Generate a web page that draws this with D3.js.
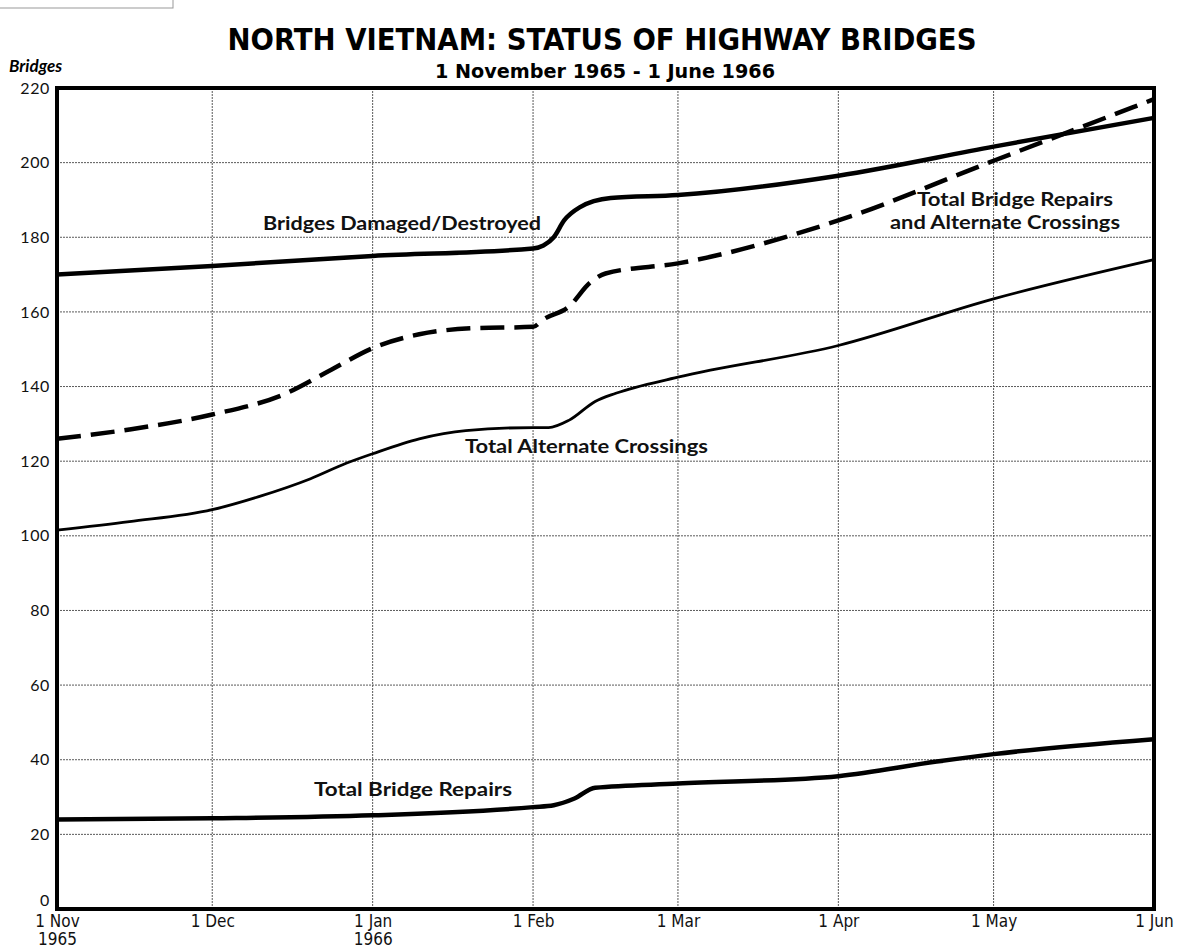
<!DOCTYPE html>
<meta charset="utf-8">
<style>
  body { margin: 0; background: #fff; }
  .grid line { stroke: #5a5a5a; stroke-width: 1; stroke-dasharray: 2,1; }
  .lbl { font-family: Lato, "Open Sans", sans-serif; font-weight: 700; font-size: 19px; fill: #111; }
  .xt { font-family: "DejaVu Sans Condensed", "DejaVu Sans", sans-serif; font-stretch: condensed; font-size: 17px; fill: #111; }
</style>
<body>
<svg id="chart" width="1179" height="951"></svg>
</body>
<script src="https://d3js.org/d3.v7.min.js"></script>
<script>
// North Vietnam: status of highway bridges, Nov 1965 - Jun 1966

// values (date, bridges)
var damaged = [
  ["1965-11-01", 170], ["1965-12-01", 172.3], ["1966-01-01", 175], ["1966-02-01", 177],
  ["1966-02-03", 177.8], ["1966-02-05", 180], ["1966-02-07", 184.5], ["1966-02-10", 188],
  ["1966-02-16", 190.5], ["1966-03-01", 191.3], ["1966-04-01", 196.5], ["1966-05-01", 204.3],
  ["1966-06-01", 212]
];
var repairsAndAlt = [
  ["1965-11-01", 126], ["1965-11-15", 128.5], ["1965-12-01", 132.5], ["1965-12-15", 138],
  ["1965-12-24", 144.5], ["1966-01-01", 150.3], ["1966-01-10", 154], ["1966-01-20", 155.6],
  ["1966-02-01", 156], ["1966-02-03", 158], ["1966-02-08", 161.5], ["1966-02-12", 167.8],
  ["1966-02-15", 170.3], ["1966-03-01", 173], ["1966-04-01", 184.5], ["1966-05-01", 200.5],
  ["1966-06-01", 217]
];
var alternate = [
  ["1965-11-01", 101.5], ["1965-11-15", 103.8], ["1965-12-01", 107], ["1965-12-10", 110.5],
  ["1965-12-20", 115.3], ["1965-12-27", 119.5], ["1966-01-01", 122], ["1966-01-10", 126],
  ["1966-01-19", 128.2], ["1966-02-01", 129], ["1966-02-04", 129], ["1966-02-08", 131],
  ["1966-02-13", 136], ["1966-02-17", 138.2], ["1966-03-01", 142.5], ["1966-04-01", 151],
  ["1966-05-01", 163.5], ["1966-06-01", 174]
];
var repairs = [
  ["1965-11-01", 24], ["1965-12-01", 24.3], ["1966-01-01", 25.1], ["1966-02-01", 27.3],
  ["1966-02-05", 27.8], ["1966-02-09", 29.6], ["1966-02-13", 32.5], ["1966-03-01", 33.6],
  ["1966-04-01", 35.6], ["1966-04-20", 39.5], ["1966-05-01", 41.5], ["1966-06-01", 45.5]
];
var yTicks = [0, 20, 40, 60, 80, 100, 120, 140, 160, 180, 200, 220];
var yearLabels = {"1965-11-01": "1965", "1966-01-01": "1966"};

var margin = {top: 88, right: 25, bottom: 42, left: 57},
    width = 1179 - margin.left - margin.right,
    height = 951 - margin.top - margin.bottom,
    parse = d3.utcParse("%Y-%m-%d"),
    key = d3.utcFormat("%Y-%m-%d"),
    x = d3.scaleUtc().domain([parse("1965-11-01"), parse("1966-06-01")]).range([0, width]),
    y = d3.scaleLinear().domain([0, 220]).range([height, 0]);

var svg = d3.select("#chart");

// stray box edge in the top left corner of the scan
svg.append("rect").attr("x", -2).attr("y", -2).attr("width", 175).attr("height", 10)
  .attr("fill", "none").attr("stroke", "#999").attr("stroke-width", 1);

svg.append("text").attr("x", 602).attr("y", 50).attr("text-anchor", "middle")
  .attr("textLength", 749).attr("lengthAdjust", "spacingAndGlyphs")
  .style("font-family", "'DejaVu Sans Condensed', 'DejaVu Sans', sans-serif")
  .style("font-stretch", "condensed")
  .style("font-weight", "bold").style("font-size", "31px")
  .text("NORTH VIETNAM: STATUS OF HIGHWAY BRIDGES");

svg.append("text").attr("x", 605).attr("y", 78).attr("text-anchor", "middle")
  .attr("textLength", 340).attr("lengthAdjust", "spacingAndGlyphs")
  .style("font-family", "'DejaVu Sans Condensed', 'DejaVu Sans', sans-serif")
  .style("font-stretch", "condensed")
  .style("font-weight", "bold").style("font-size", "20px")
  .text("1 November 1965 - 1 June 1966");

svg.append("text").attr("x", 9).attr("y", 72)
  .style("font-family", "Lato, sans-serif").style("font-weight", "bold")
  .style("font-style", "italic").style("font-size", "17px")
  .text("Bridges");

var g = svg.append("g").attr("transform", "translate(" + margin.left + "," + margin.top + ")");

var months = x.ticks(d3.utcMonth.every(1));

// grid
var grid = g.append("g").attr("class", "grid");
grid.selectAll(".h").data(yTicks.filter(function(d){ return d > 0 && d < 220; }))
  .enter().append("line")
  .attr("x1", 0).attr("x2", width)
  .attr("y1", function(d){ return y(d); }).attr("y2", function(d){ return y(d); });
grid.selectAll(".v").data(months.slice(1, -1))
  .enter().append("line")
  .attr("y1", 0).attr("y2", height)
  .attr("x1", function(d){ return x(d); }).attr("x2", function(d){ return x(d); });

// y axis labels
var yAxis = d3.axisLeft(y).tickValues(yTicks).tickSize(0).tickPadding(7);
g.append("g").call(yAxis)
  .call(function(a){ a.select(".domain").remove(); })
  .selectAll("text")
  .style("font-family", "Lato, 'Open Sans', sans-serif").style("font-size", "16px")
  .style("letter-spacing", "0.6px").attr("fill", "#111")
  .attr("dy", function(d){ return d === 0 ? "-0.2em" : "0.32em"; });

// x axis labels, two rows
var fmt = d3.utcFormat("%b");
var xAxis = d3.axisBottom(x).tickValues(months).tickSize(0).tickPadding(6)
  .tickFormat(function(d){ return "1 " + fmt(d); });
var xa = g.append("g").attr("transform", "translate(0," + height + ")").call(xAxis);
xa.select(".domain").remove();
xa.selectAll("text").attr("class", "xt").attr("fill", null);
xa.selectAll(".tick").filter(function(d){ return yearLabels[key(d)]; })
  .append("text").attr("class", "xt").attr("y", 36)
  .text(function(d){ return yearLabels[key(d)]; });

// frame
g.append("rect").attr("width", width).attr("height", height)
  .attr("fill", "none").attr("stroke", "#000").attr("stroke-width", 4);

// series
var line = d3.line()
  .x(function(d){ return x(parse(d[0])); })
  .y(function(d){ return y(d[1]); })
  .curve(d3.curveMonotoneX);

g.append("path").datum(damaged).attr("d", line)
  .attr("fill", "none").attr("stroke", "#000").attr("stroke-width", 4.5);
g.append("path").datum(repairsAndAlt).attr("d", line)
  .attr("fill", "none").attr("stroke", "#000").attr("stroke-width", 4.5)
  .attr("stroke-dasharray", "24,10");
g.append("path").datum(alternate).attr("d", line)
  .attr("fill", "none").attr("stroke", "#000").attr("stroke-width", 2.8);
g.append("path").datum(repairs).attr("d", line)
  .attr("fill", "none").attr("stroke", "#000").attr("stroke-width", 4.5);

// series labels
function label(tx, ty, len, s) {
  svg.append("text").attr("class", "lbl").attr("x", tx).attr("y", ty)
    .attr("textLength", len).attr("lengthAdjust", "spacingAndGlyphs").text(s);
}
label(263, 230, 278, "Bridges Damaged/Destroyed");
label(917, 206, 196, "Total Bridge Repairs");
label(890, 229, 230, "and Alternate Crossings");
label(465, 453, 243, "Total Alternate Crossings");
label(314, 796, 198, "Total Bridge Repairs");
</script>
